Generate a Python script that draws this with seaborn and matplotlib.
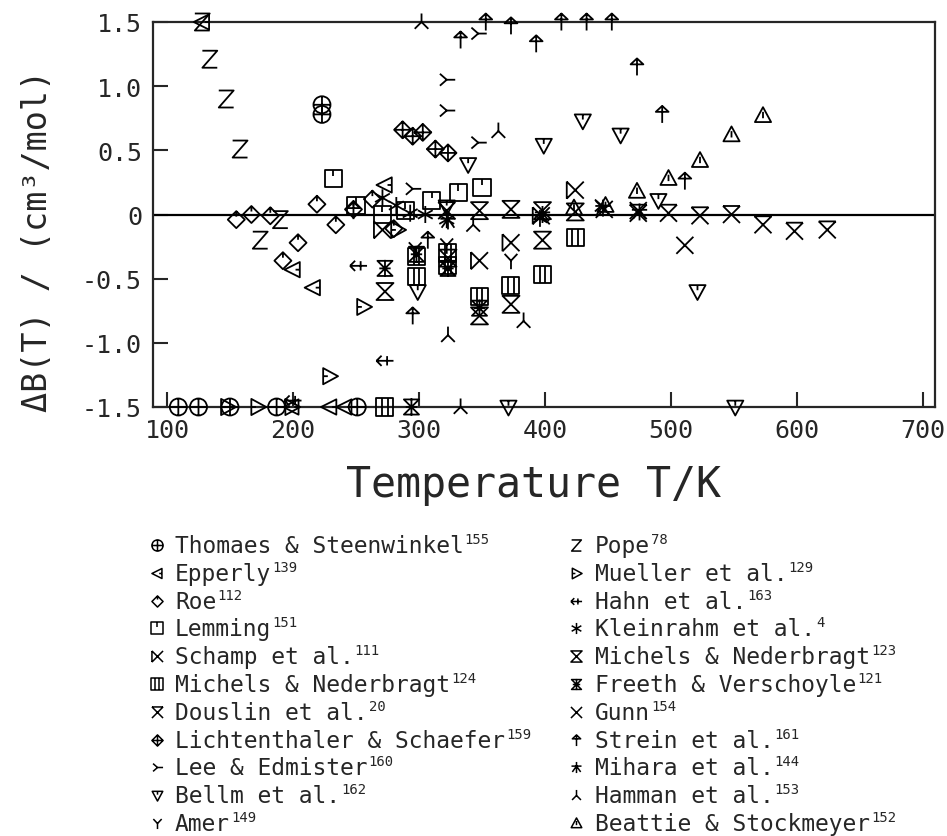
import numpy as np
import matplotlib
matplotlib.use("Agg")
import matplotlib.pyplot as plt
from matplotlib.path import Path
from matplotlib.lines import Line2D
import seaborn as sns

# ---------------- data (T in K, Delta B in cm3/mol) ----------------
thomaes_T = [109, 125, 150, 187, 223, 223, 251]
thomaes_B = [-1.5, -1.5, -1.5, -1.5, 0.855, 0.78, -1.5]
epperly_T = [128, 199, 200, 216, 229, 241, 273]
epperly_B = [1.5, -1.5, -0.43, -0.57, -1.5, -1.5, 0.23]
roe_T = [155, 167, 182, 192, 204, 219, 234, 248, 263, 280]
roe_B = [-0.04, 0.0, -0.01, -0.36, -0.22, 0.08, -0.08, 0.04, 0.12, -0.11]
lemming_T = [232, 250, 271, 289, 310, 331, 350]
lemming_B = [0.28, 0.07, 0.0, 0.03, 0.11, 0.17, 0.21]
schamp_T = [271, 348, 373, 397, 424]
schamp_B = [-0.12, -0.36, -0.22, -0.01, 0.19]
mich124_T = [273, 298, 298, 323, 323, 348, 373, 398, 424]
mich124_B = [-1.5, -0.33, -0.48, -0.30, -0.40, -0.64, -0.55, -0.47, -0.18]
douslin_T = [322, 474, 498, 523, 548, 573, 598, 624]
douslin_B = [0.03, 0.01, 0.01, -0.01, 0.0, -0.08, -0.13, -0.12]
licht_T = [287, 295, 303, 313, 323]
licht_B = [0.66, 0.61, 0.64, 0.51, 0.48]
lee_T = [295, 322, 322, 347, 347, 445]
lee_B = [0.20, 1.05, 0.81, 1.41, 0.56, 0.07]
bellm_T = [299, 322, 339, 371, 399, 430, 460, 490, 521, 551]
bellm_B = [-0.60, 0.06, 0.39, -1.5, 0.54, 0.73, 0.62, 0.11, -0.60, -1.5]
amer_T = [297, 322, 373]
amer_B = [-0.27, -0.24, -0.36]
pope_T = [128, 134, 147, 158, 174, 190]
pope_B = [1.5, 1.21, 0.90, 0.51, -0.20, -0.04]
mueller_T = [148, 172, 199, 229, 256, 283]
mueller_B = [-1.5, -1.5, -1.5, -1.26, -0.72, -0.12]
hahn_T = [200, 252, 273]
hahn_B = [-1.45, -0.40, -1.14]
klein_T = [271, 282, 293, 305, 322, 396]
klein_B = [0.13, 0.07, 0.01, 0.0, -0.04, -0.03]
mich123_T = [273, 323, 348, 348, 373, 373, 398, 398, 424]
mich123_B = [-0.60, -0.34, -0.79, 0.03, -0.70, 0.04, -0.20, 0.03, 0.02]
freeth_T = [273, 294, 298, 323, 348]
freeth_B = [-0.42, -1.5, -0.31, -0.42, -0.73]
gunn_T = [447, 474, 511]
gunn_B = [0.04, 0.03, -0.24]
strein_T = [248, 295, 307, 333, 353, 373, 393, 413, 433, 453, 473, 493, 511]
strein_B = [0.03, -0.79, -0.20, 1.36, 1.5, 1.47, 1.33, 1.5, 1.5, 1.5, 1.15, 0.78, 0.26]
mihara_T = [323, 398, 446, 475]
mihara_B = [-0.05, 0.0, 0.05, 0.02]
hamman_T = [302, 323, 333, 343, 363, 383]
hamman_B = [1.5, -0.94, -1.5, -0.08, 0.65, -0.83]
beattie_T = [423, 448, 473, 498, 523, 548, 573]
beattie_B = [0.05, 0.07, 0.18, 0.28, 0.42, 0.62, 0.77]

x_ticks = [100, 200, 300, 400, 500, 600, 700]
y_ticks = [-1.5, -1.0, -0.5, 0, 0.5, 1.0, 1.5]
y_ticklabels = ["-1.5", "-1.0", "-0.5", "0", "0.5", "1.0", "1.5"]

# ---------------- marker glyphs ----------------
M, L, C = Path.MOVETO, Path.LINETO, Path.CLOSEPOLY


def seg(*pts):
    return Path(list(pts), [M] + [L] * (len(pts) - 1))


def poly(*pts):
    pts = list(pts) + [pts[0]]
    return Path(pts, [M] + [L] * (len(pts) - 2) + [C])


def comp(*ps):
    return Path.make_compound_path(*ps)


circle = Path.unit_circle()
sq = poly((-0.8, 0.8), (0.8, 0.8), (0.8, -0.8), (-0.8, -0.8))
hourglass = poly((-0.8, 0.8), (0.8, 0.8), (-0.8, -0.8), (0.8, -0.8))
mk = {
    "thomaes": comp(circle, seg((-1, 0), (1, 0)), seg((0, -1), (0, 1))),
    "epperly": comp(poly((-1, 0), (0.8, 0.9), (0.8, -0.9)), seg((0.8, 0), (0.3, 0))),
    "roe": comp(poly((0, 1), (1, 0), (0, -1), (-1, 0)), seg((0, 1), (0, 0.35))),
    "lemming": comp(sq, seg((0, 0.8), (0, 0.2))),
    "schamp": comp(seg((-0.8, -0.8), (0.8, 0.8)), seg((-0.8, 0.8), (0.8, -0.8)), seg((-0.8, -0.8), (-0.8, 0.8))),
    "mich124": comp(sq, seg((-0.27, 0.8), (-0.27, -0.8)), seg((0.27, 0.8), (0.27, -0.8))),
    "douslin": comp(seg((-0.8, -0.8), (0.8, 0.8)), seg((-0.8, 0.8), (0.8, -0.8)), seg((-0.8, 0.8), (0.8, 0.8))),
    "licht": comp(poly((0, 1), (1, 0), (0, -1), (-1, 0)), seg((-1, 0), (1, 0)), seg((0, -1), (0, 1))),
    "lee": comp(seg((0, 0), (1, 0)), seg((0, 0), (-0.8, 0.7)), seg((0, 0), (-0.8, -0.7))),
    "bellm": comp(poly((0, -1), (0.95, 0.75), (-0.95, 0.75)), seg((0, 0.75), (0, 0.15))),
    "amer": comp(seg((0, 0), (0, -1)), seg((0, 0), (-0.75, 0.8)), seg((0, 0), (0.75, 0.8))),
    "pope": seg((-0.7, 0.8), (0.7, 0.8), (-0.7, -0.8), (0.7, -0.8)),
    "mueller": comp(poly((1, 0), (-0.75, 0.95), (-0.75, -0.95)), seg((-0.75, 0), (-0.2, 0))),
    "hahn": comp(seg((-1, 0), (1, 0)), seg((-1, 0), (-0.4, 0.6)), seg((-1, 0), (-0.4, -0.6)),
                 seg((0.25, 0.55), (0.25, -0.55))),
    "klein": comp(seg((0, 1), (0, -1)), seg((-0.87, 0.5), (0.87, -0.5)), seg((-0.87, -0.5), (0.87, 0.5))),
    "mich123": hourglass,
    "freeth": comp(hourglass, seg((0, 0.9), (0, -0.9)), seg((-0.6, 0), (0.6, 0))),
    "gunn": comp(seg((-0.8, -0.8), (0.8, 0.8)), seg((-0.8, 0.8), (0.8, -0.8))),
    "strein": comp(seg((0, 1), (0, -1)), poly((0, 1), (0.75, 0.3), (-0.75, 0.3))),
    "mihara": comp(seg((0, 1), (0, -1)), seg((-0.9, 0.25), (0.9, 0.25)),
                   seg((0, 0.25), (-0.75, -0.8)), seg((0, 0.25), (0.75, -0.8))),
    "hamman": comp(seg((0, 0), (0, 1)), seg((0, 0), (-0.8, -0.8)), seg((0, 0), (0.8, -0.8))),
    "beattie": comp(poly((0, 1), (0.95, -0.75), (-0.95, -0.75)), seg((0, 0.45), (0, -0.3))),
}

series = [
    ("thomaes", thomaes_T, thomaes_B, "Thomaes & Steenwinkel", "155"),
    ("epperly", epperly_T, epperly_B, "Epperly", "139"),
    ("roe", roe_T, roe_B, "Roe", "112"),
    ("lemming", lemming_T, lemming_B, "Lemming", "151"),
    ("schamp", schamp_T, schamp_B, "Schamp et al.", "111"),
    ("mich124", mich124_T, mich124_B, "Michels & Nederbragt", "124"),
    ("douslin", douslin_T, douslin_B, "Douslin et al.", "20"),
    ("licht", licht_T, licht_B, "Lichtenthaler & Schaefer", "159"),
    ("lee", lee_T, lee_B, "Lee & Edmister", "160"),
    ("bellm", bellm_T, bellm_B, "Bellm et al.", "162"),
    ("amer", amer_T, amer_B, "Amer", "149"),
    ("pope", pope_T, pope_B, "Pope", "78"),
    ("mueller", mueller_T, mueller_B, "Mueller et al.", "129"),
    ("hahn", hahn_T, hahn_B, "Hahn et al.", "163"),
    ("klein", klein_T, klein_B, "Kleinrahm et al.", "4"),
    ("mich123", mich123_T, mich123_B, "Michels & Nederbragt", "123"),
    ("freeth", freeth_T, freeth_B, "Freeth & Verschoyle", "121"),
    ("gunn", gunn_T, gunn_B, "Gunn", "154"),
    ("strein", strein_T, strein_B, "Strein et al.", "161"),
    ("mihara", mihara_T, mihara_B, "Mihara et al.", "144"),
    ("hamman", hamman_T, hamman_B, "Hamman et al.", "153"),
    ("beattie", beattie_T, beattie_B, "Beattie & Stockmeyer", "152"),
]

# ---------------- figure ----------------
sns.set_style("ticks")
plt.rcParams["font.family"] = ["DejaVu Sans Mono"]

W, H = 947, 837
fig = plt.figure(figsize=(W / 100, H / 100), dpi=100)
ax = fig.add_axes([153 / W, 1 - 408 / H, (935 - 153) / W, (408 - 23) / H])

for key, T, B, name, ref in series:
    sns.scatterplot(x=T, y=B, marker=mk[key], s=150, facecolor="none",
                    edgecolor="black", linewidth=1.3, ax=ax, clip_on=False,
                    legend=False, zorder=3)

ax.axhline(0, color="black", lw=1.6, zorder=2)
ax.set_xlim(88.9, 709.5)
ax.set_ylim(-1.5, 1.5)
ax.set_xticks(x_ticks)
ax.set_xticklabels([str(t) for t in x_ticks])
ax.set_yticks(y_ticks)
ax.set_yticklabels(y_ticklabels)
ax.tick_params(direction="in", length=11, width=1.5, labelsize=18, pad=8,
               top=False, right=False)
for sp in ax.spines.values():
    sp.set_linewidth(1.6)
    sp.set_visible(True)

ax.set_xlabel("Temperature T/K", fontsize=30)
ax.xaxis.set_label_coords((533 - 153) / (935 - 153), -(464 - 408) / (408 - 23))
ax.set_ylabel("ΔB(T) / (cm³/mol)", fontsize=24)
ax.yaxis.set_label_coords(-(153 - 54) / (935 - 153), (408 - 241) / (408 - 23))

# ---------------- legend (two columns, drawn row by row) ----------------
renderer = fig.canvas.get_renderer()
row0, drow = 546, 27.8
cols = [(157, 175), (576, 595)]
for i, (key, T, B, name, ref) in enumerate(series):
    c, r = divmod(i, 11)
    xm, xt = cols[c]
    yc = row0 + r * drow
    fig.add_artist(Line2D([xm / W], [1 - yc / H], transform=fig.transFigure,
                          marker=mk[key], linestyle="none", markersize=8,
                          markerfacecolor="none", markeredgecolor="black",
                          markeredgewidth=1.1))
    base = yc + 7
    t = fig.text(xt / W, 1 - base / H, name, fontsize=16.5, ha="left",
                 va="baseline")
    bb = t.get_window_extent(renderer)
    fig.text((bb.x1 + 1) / W, 1 - (base - 9) / H, ref, fontsize=10,
             ha="left", va="baseline")

fig.savefig("out.png", dpi=100)
